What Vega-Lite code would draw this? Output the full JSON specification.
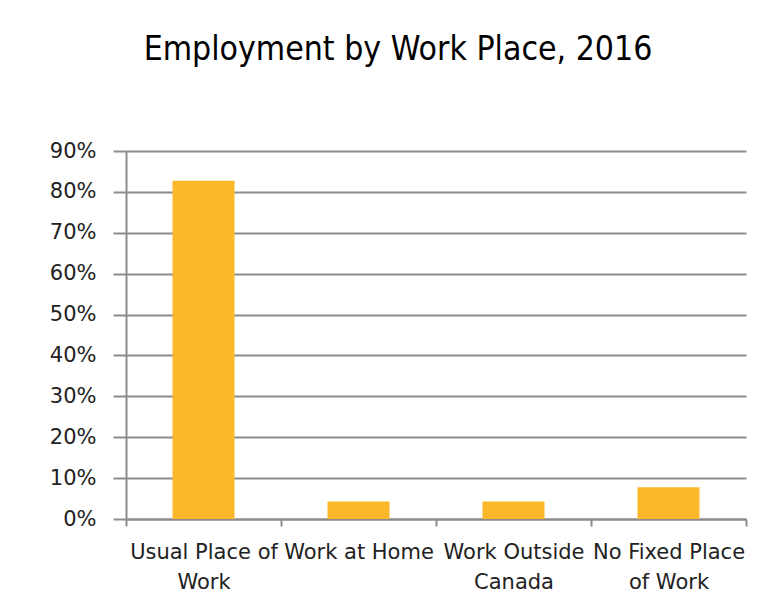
{
  "$schema": "https://vega.github.io/schema/vega-lite/v6.json",
  "autosize": "none",
  "width": 620,
  "height": 368,
  "padding": {"left": 126, "top": 151, "right": 31, "bottom": 92},
  "background": "white",
  "title": {
    "text": "Employment by Work Place, 2016",
    "font": "DejaVu Sans Condensed",
    "fontSize": 33.5,
    "fontWeight": "normal",
    "color": "#000000",
    "anchor": "middle",
    "frame": "group",
    "dx": -38,
    "offset": 73
  },
  "data": {
    "values": [
      {"place": "Usual Place of|Work", "share": 0.827},
      {"place": "Work at Home", "share": 0.043},
      {"place": "Work Outside|Canada", "share": 0.043},
      {"place": "No Fixed Place|of Work", "share": 0.0775}
    ]
  },
  "mark": {"type": "bar", "color": "#FBB829", "width": {"band": 0.4}},
  "encoding": {
    "x": {
      "field": "place",
      "type": "nominal",
      "sort": null,
      "scale": {"paddingInner": 0, "paddingOuter": 0},
      "axis": {
        "title": null,
        "labelAngle": 0,
        "labelExpr": "split(datum.label, '|')",
        "labelFont": "DejaVu Sans",
        "labelFontSize": 21,
        "labelColor": "#222222",
        "labelPadding": 15,
        "labelLineHeight": 30,
        "tickBand": "extent",
        "tickSize": 7,
        "tickWidth": 2,
        "tickColor": "#8c8c8c",
        "domainColor": "#8c8c8c",
        "domainWidth": 2,
        "labelLimit": 0
      }
    },
    "y": {
      "field": "share",
      "type": "quantitative",
      "scale": {"domain": [0, 0.9], "nice": false},
      "axis": {
        "title": null,
        "format": ".0%",
        "values": [0, 0.1, 0.2, 0.3, 0.4, 0.5, 0.6, 0.7, 0.8, 0.9],
        "labelFont": "DejaVu Sans",
        "labelFontSize": 21,
        "labelColor": "#222222",
        "labelPadding": 17,
        "tickSize": 13,
        "tickWidth": 2,
        "tickColor": "#8c8c8c",
        "gridColor": "#8c8c8c",
        "gridWidth": 2,
        "domainColor": "#8c8c8c",
        "domainWidth": 2
      }
    }
  },
  "config": {"view": {"stroke": null}}
}
